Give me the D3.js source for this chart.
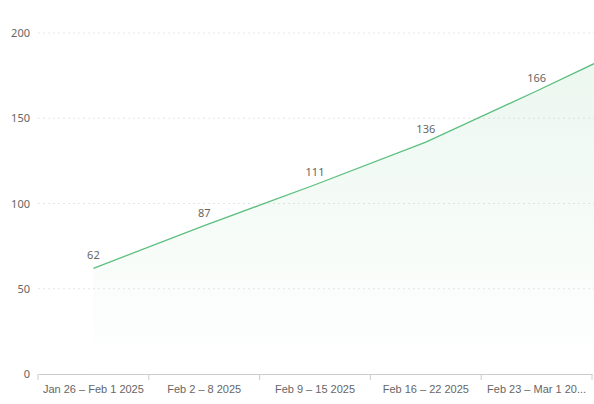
<!DOCTYPE html>
<html>
<head>
<meta charset="utf-8">
<script src="https://cdn.jsdelivr.net/npm/d3@7"></script>
<style>
  body { margin: 0; background: #fff; font-family: "Noto Sans", sans-serif; }
  .tick text { fill: #666; font-size: 11px; }
</style>
</head>
<body>
<svg id="chart" width="594" height="404"></svg>
<script>
  // Chart data
  var categories = ["Jan 26 – Feb 1 2025", "Feb 2 – 8 2025", "Feb 9 – 15 2025", "Feb 16 – 22 2025", "Feb 23 – Mar 1 20..."];
  var values = [62, 87, 111, 136, 166];
  var edgeValue = 182; // line continues to the right edge
  var yTicks = [0, 50, 100, 150, 200];

  (function () {
    var svg = d3.select("#chart");
    var mLeft = 38, mRight = 592, mTop = 33, mBottom = 374;

    var x = d3.scaleBand().domain(categories).range([mLeft, mRight]);
    var y = d3.scaleLinear().domain([0, 200]).range([mBottom, mTop]);

    // Grid lines
    svg.append("g").selectAll("line").data(yTicks.slice(1)).enter().append("line")
      .attr("x1", mLeft).attr("x2", 594)
      .attr("y1", function (d) { return y(d); }).attr("y2", function (d) { return y(d); })
      .attr("stroke", "#e6e6e6").attr("stroke-dasharray", "2,3");

    // Y axis labels
    svg.append("g").selectAll("text").data(yTicks).enter().append("text")
      .attr("x", 30).attr("y", function (d) { return y(d) + 4; })
      .attr("text-anchor", "end").attr("fill", "#666").style("font-size", "11px")
      .text(function (d) { return d; });

    // X axis
    var xAxis = svg.append("g").attr("transform", "translate(0," + mBottom + ")")
      .call(d3.axisBottom(x).tickSize(0).tickPadding(11));
    xAxis.select(".domain").attr("stroke", "#ccc");
    xAxis.selectAll(".tick text").attr("fill", "#555");
    var seps = categories.map(function (c) { return x(c); }).concat([mRight]);
    xAxis.selectAll("line.sep").data(seps).enter().append("line")
      .attr("class", "sep")
      .attr("x1", function (d) { return d; }).attr("x2", function (d) { return d; })
      .attr("y1", 0).attr("y2", 6).attr("stroke", "#ccc");

    // Points
    var pts = categories.map(function (c, i) { return [x(c) + x.bandwidth() / 2, y(values[i])]; });
    pts.push([594, y(edgeValue)]);

    var grad = svg.append("defs").append("linearGradient")
      .attr("id", "fill").attr("x1", "0%").attr("y1", "0%").attr("x2", "0%").attr("y2", "100%");
    grad.append("stop").attr("offset", 0).attr("stop-color", "#5cbf7f").attr("stop-opacity", 0.12);
    grad.append("stop").attr("offset", 1).attr("stop-color", "#5cbf7f").attr("stop-opacity", 0.0);

    svg.append("path").datum(pts)
      .attr("d", d3.area().x(function (d) { return d[0]; }).y0(mBottom).y1(function (d) { return d[1]; }))
      .attr("fill", "url(#fill)");

    svg.append("path").datum(pts)
      .attr("d", d3.line())
      .attr("fill", "none").attr("stroke", "#5cbf7f").attr("stroke-width", 1.3);

    // Value labels
    svg.append("g").selectAll("text").data(values).enter().append("text")
      .attr("x", function (d, i) { return pts[i][0]; })
      .attr("y", function (d, i) { return pts[i][1] - 9; })
      .attr("text-anchor", "middle").attr("fill", "#666").style("font-size", "11px")
      .text(function (d) { return d; });
  })();
</script>
</body>
</html>
